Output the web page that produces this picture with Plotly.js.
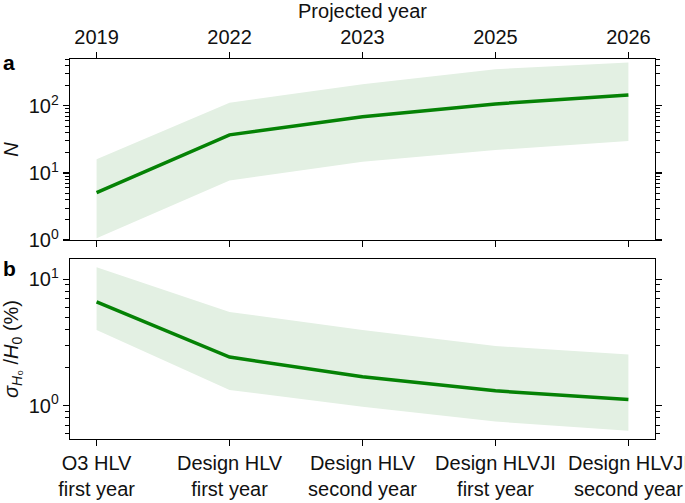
<!DOCTYPE html>
<html><head><meta charset="utf-8">
<script src="https://cdn.plot.ly/plotly-3.0.1.min.js"></script>
<style>html,body{margin:0;padding:0;background:#fff}</style>
</head><body>
<div id="chart" style="width:685px;height:503px"></div>
<script>
const stagePos = [0, 1, 2, 3, 4];
const stageLabels = ["O3 HLV<br>first year", "Design HLV<br>first year", "Design HLV<br>second year", "Design HLVJI<br>first year", "Design HLVJI<br>second year"];
const years = ["2019", "2022", "2023", "2025", "2026"];

const nMedian = [5.1, 37, 69, 107, 146];
const nUpper = [16, 112, 210, 353, 443];
const nLower = [1.06, 7.7, 14.7, 22, 30];

const hMedian = [6.6, 2.42, 1.69, 1.31, 1.12];
const hUpper = [12.4, 5.5, 3.96, 2.96, 2.54];
const hLower = [3.96, 1.33, 0.98, 0.75, 0.635];

const green = '#058205';
const band = '#e3f0e3';
const font = {family: '"Liberation Sans", Arial, sans-serif', size: 20, color: '#111'};

const traces = [
  {x: stagePos, y: nLower, xaxis: 'x', yaxis: 'y', mode: 'lines', line: {width: 0, color: band}, hoverinfo: 'skip', showlegend: false},
  {x: stagePos, y: nUpper, xaxis: 'x', yaxis: 'y', mode: 'lines', fill: 'tonexty', fillcolor: band, line: {width: 0, color: band}, hoverinfo: 'skip', showlegend: false},
  {x: stagePos, y: nMedian, xaxis: 'x', yaxis: 'y', mode: 'lines', line: {width: 3.5, color: green}, showlegend: false},
  {x: stagePos, y: hLower, xaxis: 'x2', yaxis: 'y2', mode: 'lines', line: {width: 0, color: band}, hoverinfo: 'skip', showlegend: false},
  {x: stagePos, y: hUpper, xaxis: 'x2', yaxis: 'y2', mode: 'lines', fill: 'tonexty', fillcolor: band, line: {width: 0, color: band}, hoverinfo: 'skip', showlegend: false},
  {x: stagePos, y: hMedian, xaxis: 'x2', yaxis: 'y2', mode: 'lines', line: {width: 3.5, color: green}, showlegend: false}
];

const commonX = {
  range: [-0.2, 4.2], tickmode: 'array', tickvals: stagePos, showgrid: false, zeroline: false,
  showline: true, linecolor: '#000', linewidth: 1.3, ticks: 'outside', ticklen: 6, tickcolor: '#000', tickwidth: 1.3,
  ticklabeloverflow: 'allow'
};
const commonY = {
  type: 'log', showgrid: false, zeroline: false, showline: true, linecolor: '#000', linewidth: 1.3,
  ticks: 'outside', ticklen: 6, tickcolor: '#000', tickwidth: 1.1, mirror: 'ticks',
  minor: {dtick: 'D1', ticks: 'outside', ticklen: 4, tickcolor: '#000', tickwidth: 1, showgrid: false}
};

const layout = {
  width: 685, height: 503,
  margin: {l: 70, r: 30, t: 59, b: 64},
  paper_bgcolor: '#fff', plot_bgcolor: '#fff',
  font: font,
  showlegend: false,
  xaxis: Object.assign({}, commonX, {
    anchor: 'y', side: 'top', ticktext: years, mirror: 'ticks',
    title: {text: 'Projected year', font: font, standoff: 8}
  }),
  yaxis: Object.assign({}, commonY, {
    domain: [0.5237, 1], anchor: 'x', range: [0, 2.70],
    tickvals: [1, 10, 100], tickmode: 'array',
    ticktext: ['10<sup>0</sup>', '10<sup>1</sup>', '10<sup>2</sup>'],
    title: {text: '<i>N</i>', font: font, standoff: 10}
  }),
  xaxis2: Object.assign({}, commonX, {
    anchor: 'y2', side: 'bottom', ticktext: stageLabels, mirror: true
  }),
  yaxis2: Object.assign({}, commonY, {
    domain: [0, 0.4737], anchor: 'x2', range: [Math.log10(0.546), Math.log10(14.4)],
    tickvals: [1, 10], tickmode: 'array',
    ticktext: ['10<sup>0</sup>', '10<sup>1</sup>'],
    title: {text: '<i>σ</i><sub><i>H</i>₀</sub> /<i>H</i><sub>0</sub> (%)', font: font, standoff: 10}
  }),
  annotations: [
    {text: '<b>a</b>', xref: 'paper', yref: 'paper', x: -0.118, y: 0.992, xanchor: 'left', yanchor: 'middle', showarrow: false, font: {family: font.family, size: 21, color: '#000'}},
    {text: '<b>b</b>', xref: 'paper', yref: 'paper', x: -0.118, y: 0.45, xanchor: 'left', yanchor: 'middle', showarrow: false, font: {family: font.family, size: 21, color: '#000'}}
  ]
};

Plotly.newPlot('chart', traces, layout, {displayModeBar: false, staticPlot: true});
</script>
</body></html>
